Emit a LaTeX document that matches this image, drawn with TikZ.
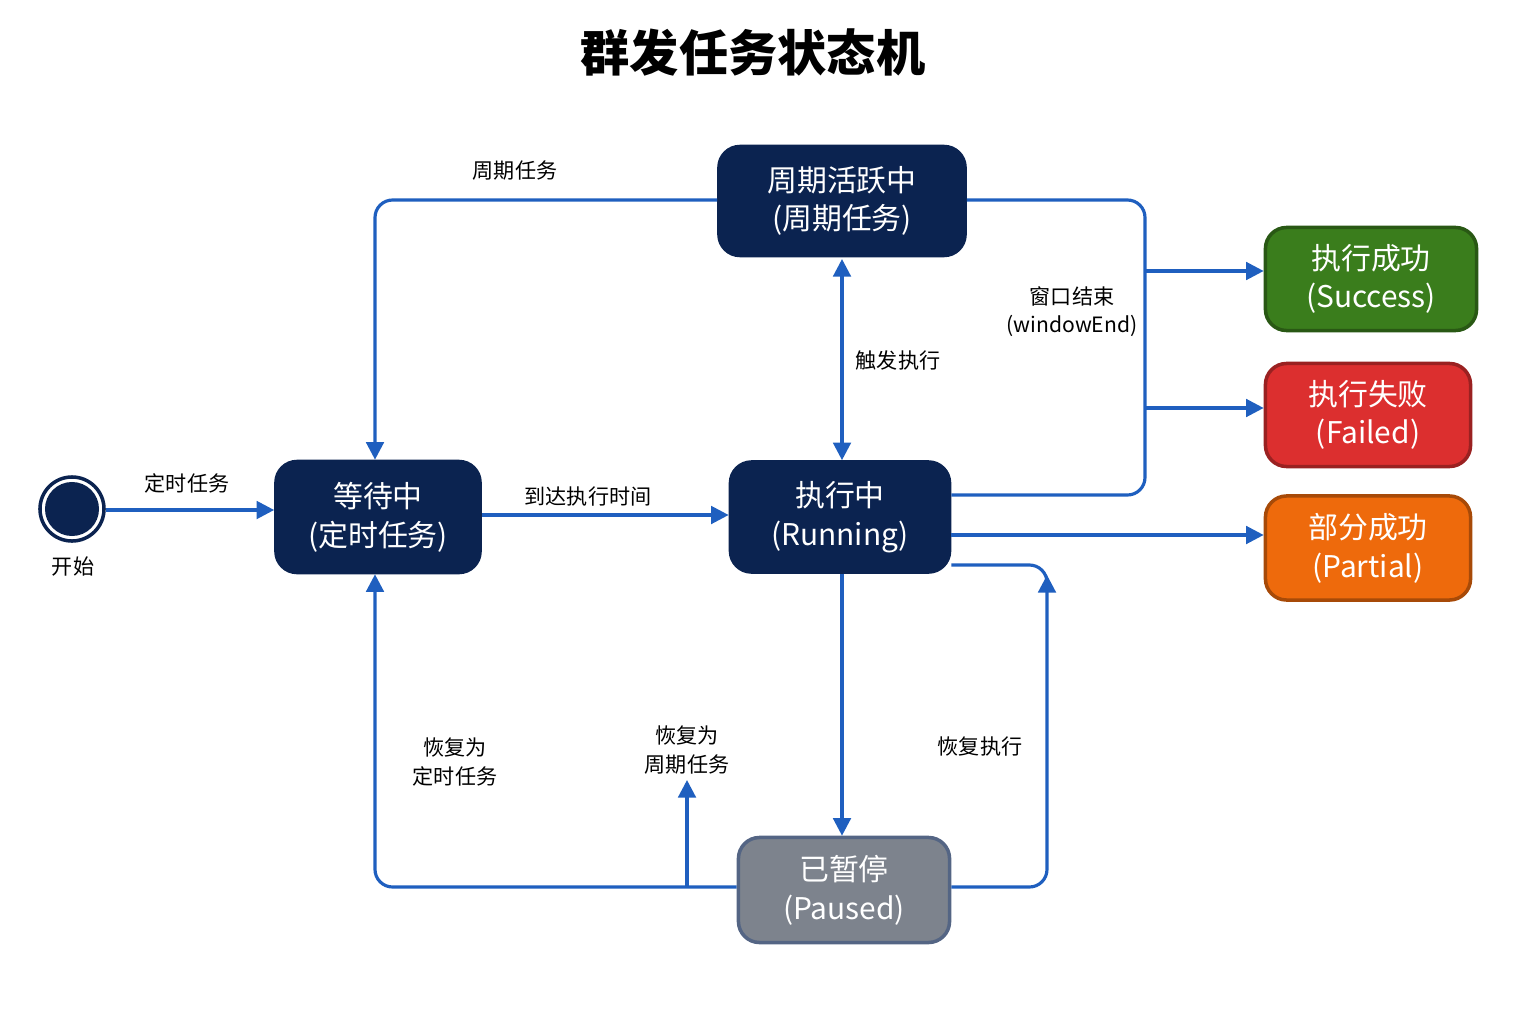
\documentclass[tikz,border=0pt]{standalone}
\usepackage{fontspec}
\setmainfont{Noto Sans CJK SC}
\usetikzlibrary{arrows.meta}
\definecolor{navy}{HTML}{0B2350}
\definecolor{flow}{HTML}{1F5FBF}
\definecolor{okgreen}{HTML}{3A7D1C}
\definecolor{badred}{HTML}{DC2F2F}
\definecolor{partorange}{HTML}{EE6A0C}
\definecolor{pausegray}{HTML}{7D838D}
\begin{document}
\begin{tikzpicture}[x=0.01cm,y=-0.01cm,
state/.style={rectangle, rounded corners=6pt, draw=navy, line width=1pt, fill=navy, text=white, align=center, font=\fontsize{8.5}{11}\selectfont},
final/.style={state, text=white},
edge/.style={draw=flow, line width=0.9pt, rounded corners=5pt},
arr/.style={edge, -{Triangle[length=5pt,width=5pt]}},
lab/.style={font=\fontsize{6}{8}\selectfont, align=center}]
\useasboundingbox (0,0) rectangle (1536,1024);
\node[font=\fontsize{14}{16}\selectfont\bfseries] (title) at (753,52) {群发任务状态机};

% states
\node[circle, draw=navy, line width=1pt, minimum size=0.64cm] (start) at (72,509) {};
\fill[navy] (start) circle (0.27cm);
\node[lab] (startlab) at (73,567) {开始};
\node[state, minimum width=2.04cm, minimum height=1.11cm] (wait) at (378,517) {等待中\\(定时任务)};
\node[state, minimum width=2.46cm, minimum height=1.09cm] (cycle) at (842,201) {周期活跃中\\(周期任务)};
\node[state, minimum width=2.19cm, minimum height=1.10cm] (run) at (840,517) {执行中\\(Running)};
\node[state, fill=pausegray, draw=navy!70, minimum width=2.11cm, minimum height=1.05cm] (pause) at (844,890) {已暂停\\(Paused)};
\node[final, fill=okgreen, draw=okgreen!70!black, minimum width=2.11cm, minimum height=1.03cm] (ok) at (1371,279) {执行成功\\(Success)};
\node[final, fill=badred, draw=badred!70!black, minimum width=2.05cm, minimum height=1.03cm] (fail) at (1368,415) {执行失败\\(Failed)};
\node[final, fill=partorange, draw=partorange!70!black, minimum width=2.05cm, minimum height=1.04cm] (part) at (1368,548) {部分成功\\(Partial)};

% transitions
\draw[arr] (start.east |- 0,510) -- (wait.west |- 0,510);
\node[lab] (l1) at (187,483) {定时任务};
\draw[arr] (wait.east |- 0,515) -- (run.west |- 0,515);
\node[lab] (l2) at (588,496) {到达执行时间};
\draw[arr, {Triangle[length=5pt,width=5pt]}-{Triangle[length=5pt,width=5pt]}] (cycle.south |- 0,259) -- (run.north -| cycle.south);
\node[lab] (l3) at (898,360) {触发执行};
\draw[arr] (cycle.west |- 0,200) -| (wait.north -| 375,0);
\node[lab] (l4) at (515,171) {周期任务};
\draw[edge] (cycle.east |- 0,200) -- (1145,200) -- (1145,495) -- (run.east |- 0,495);
\coordinate (okfork) at (1145,271);
\coordinate (failfork) at (1145,408);
\draw[arr] (okfork) -- (ok.west |- okfork);
\draw[arr] (failfork) -- (fail.west |- failfork);
\node[lab] (l5) at (1072,312) {窗口结束\\(windowEnd)};
\draw[arr] (run.east |- 0,535) -- (part.west |- 0,535);
\draw[arr] (run.south -| 842,0) -- (pause.north -| 842,0);
\draw[edge] (run.east |- 0,565) -- (1047,565) -- (1047,580);
\draw[arr] (pause.east |- 0,887) -| (1047,575);
\node[lab] (l6) at (980,746) {恢复执行};
\draw[arr] (pause.west |- 0,887) -| (wait.south -| 375,0);
\node[lab] (l7) at (455,762) {恢复为\\定时任务};
\coordinate (fork) at (687,887);
\draw[arr] (fork) -- (687,780);
\node[lab] (l8) at (687,750) {恢复为\\周期任务};
\end{tikzpicture}
\end{document}
